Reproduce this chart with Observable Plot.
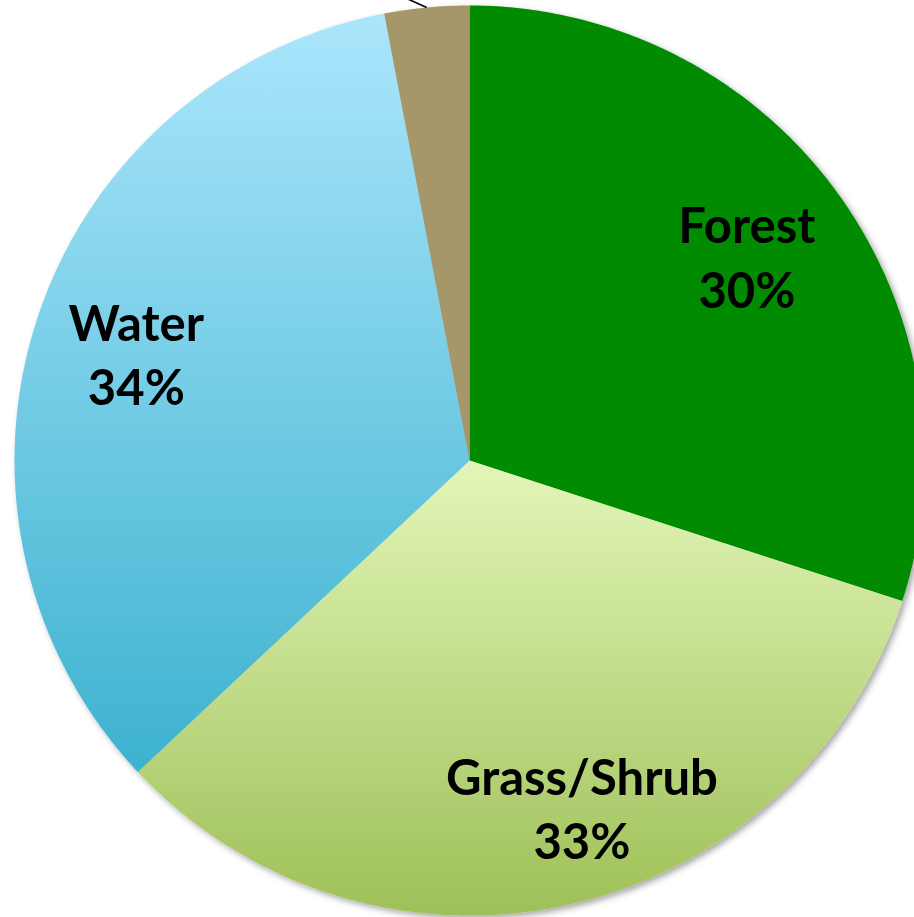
<!DOCTYPE html>
<html>
<head>
<meta charset="utf-8">
<script src="https://cdn.jsdelivr.net/npm/d3@7"></script>
<script src="https://cdn.jsdelivr.net/npm/@observablehq/plot@0.6"></script>
<style>
  html, body { margin: 0; padding: 0; background: #ffffff; overflow: hidden; }
  #chart svg { display: block; }
</style>
</head>
<body>
<div id="chart"></div>
<script>
// ---- data ----
const categories = ["Forest", "Grass/Shrub", "Water", "Other"];
const values = [30, 33, 34, 3];
const labels = ["Forest\n30%", "Grass/Shrub\n33%", "Water\n34%", ""];
const fills = ["#008b00", "url(#gradGrass)", "url(#gradWater)", "#a5976a"];

// ---- geometry built from data (unit circle, data coordinates) ----
const pie = d3.pie().sort(null).value(d => d.value);
const rows = categories.map((c, i) => ({name: c, value: values[i], label: labels[i], fill: fills[i]}));
const arcs = pie(rows);

const slices = arcs.map(a => {
  const pts = [{x: 0, y: 0}];
  const n = Math.max(4, Math.ceil((a.endAngle - a.startAngle) / 0.01));
  for (let k = 0; k <= n; k++) {
    const t = a.startAngle + (a.endAngle - a.startAngle) * k / n;
    pts.push({x: Math.sin(t), y: Math.cos(t)});
  }
  pts.push({x: 0, y: 0});
  return {name: a.data.name, fill: a.data.fill, pts};
});

const labelR = 0.77;
const labelData = arcs.filter(a => a.data.label).map(a => {
  const m = (a.startAngle + a.endAngle) / 2;
  return {name: a.data.name, x: labelR * Math.sin(m), y: labelR * Math.cos(m), text: a.data.label};
});

// leader line for the small slice
const small = arcs[3];
const sm = (small.startAngle + small.endAngle) / 2;
const leader = [{x1: Math.sin(sm), y1: Math.cos(sm), x2: Math.sin(sm) - 0.1, y2: Math.cos(sm) + 0.045}];

const marks = [];
slices.forEach(s => {
  marks.push(Plot.line(s.pts, {x: "x", y: "y", fill: s.fill, stroke: "none", curve: "linear"}));
});
marks.push(Plot.link(leader, {x1: "x1", y1: "y1", x2: "x2", y2: "y2", stroke: "#000", strokeWidth: 1.5}));
// small label nudges (best-fit placement)
const nudge = {"Forest": [-6, 0], "Grass/Shrub": [36, 4], "Water": [0, 0]};
labelData.forEach(d => {
  marks.push(Plot.text([d], {
    x: "x", y: "y", text: "text",
    dx: nudge[d.name][0], dy: nudge[d.name][1],
    fontSize: 49, fontWeight: "bold", fill: "#000",
    lineHeight: 1.32, fontFamily: "Lato, 'Open Sans', sans-serif"
  }));
});

const chart = Plot.plot({
  width: 914,
  height: 917,
  margin: 0,
  style: {background: "#ffffff", overflow: "hidden"},
  x: {domain: [-1, 1], range: [14, 924], axis: null},
  y: {domain: [-1, 1], range: [915, 5], axis: null},
  marks
});

// gradient defs and a soft edge shadow
const svg = d3.select(chart);
const defs = svg.insert("defs", ":first-child");
const gw = defs.append("linearGradient").attr("id", "gradWater").attr("x1", 0).attr("y1", 0).attr("x2", 0).attr("y2", 1);
gw.append("stop").attr("offset", "0%").attr("stop-color", "#abe6fc");
gw.append("stop").attr("offset", "100%").attr("stop-color", "#3db2cf");
const gg = defs.append("linearGradient").attr("id", "gradGrass").attr("x1", 0).attr("y1", 0).attr("x2", 0).attr("y2", 1);
gg.append("stop").attr("offset", "0%").attr("stop-color", "#e3f6b8");
gg.append("stop").attr("offset", "100%").attr("stop-color", "#9ec058");
const f = defs.append("filter").attr("id", "shadow").attr("x", "-5%").attr("y", "-5%").attr("width", "115%").attr("height", "115%");
f.append("feDropShadow").attr("dx", 3).attr("dy", 3).attr("stdDeviation", 3).attr("flood-color", "#000").attr("flood-opacity", 0.35);

// group slice marks under one shadowed group
const sliceGroups = svg.selectAll("g[aria-label='line']").nodes();
if (sliceGroups.length) {
  const wrap = svg.insert("g", () => sliceGroups[0]).attr("filter", "url(#shadow)");
  sliceGroups.forEach(n => wrap.node().appendChild(n));
}

document.getElementById("chart").appendChild(chart);
</script>
</body>
</html>
